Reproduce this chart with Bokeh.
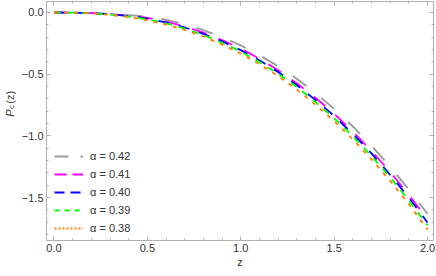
import numpy as np
from bokeh.plotting import figure
from bokeh.layouts import row
from bokeh.models import (SingleIntervalTicker, LinearAxis, Legend, LegendItem,
                          CustomJSTickFormatter)
from bokeh.core.properties import value
from bokeh.embed import file_html
from bokeh.resources import INLINE

# ---- data ----
z = [0.0, 0.1, 0.2, 0.3, 0.4, 0.5, 0.6, 0.7, 0.8, 0.9, 1.0,
     1.1, 1.2, 1.3, 1.4, 1.5, 1.6, 1.7, 1.8, 1.9, 2.0]
p_042 = [0.0, -0.001, -0.004, -0.011, -0.022, -0.033, -0.059, -0.095, -0.143, -0.200, -0.267,
         -0.346, -0.436, -0.537, -0.652, -0.781, -0.924, -1.080, -1.250, -1.434, -1.633]
p_041 = [0.0, -0.001, -0.005, -0.013, -0.026, -0.043, -0.074, -0.113, -0.163, -0.223, -0.293,
         -0.375, -0.468, -0.573, -0.691, -0.821, -0.965, -1.122, -1.293, -1.478, -1.678]
p_040 = [0.0, -0.001, -0.006, -0.015, -0.029, -0.049, -0.081, -0.121, -0.173, -0.234, -0.305,
         -0.388, -0.482, -0.589, -0.708, -0.839, -0.984, -1.142, -1.315, -1.501, -1.702]
p_039 = [0.0, -0.001, -0.006, -0.017, -0.033, -0.055, -0.088, -0.130, -0.182, -0.245, -0.317,
         -0.401, -0.497, -0.604, -0.725, -0.857, -1.003, -1.163, -1.336, -1.524, -1.726]
p_038 = [0.0, -0.001, -0.007, -0.019, -0.037, -0.063, -0.098, -0.141, -0.195, -0.259, -0.333,
         -0.419, -0.516, -0.625, -0.747, -0.881, -1.029, -1.190, -1.365, -1.554, -1.758]
series = [p_042, p_041, p_040, p_039, p_038]
labels = ["α = 0.42", "α = 0.41", "α = 0.40", "α = 0.39", "α = 0.38"]

x_ticks = [0.0, 0.5, 1.0, 1.5, 2.0]
x_tick_labels = ["0.0", "0.5", "1.0", "1.5", "2.0"]
y_ticks = [0.0, -0.5, -1.0, -1.5]
y_tick_labels = ["0.0", "\u22120.5", "\u22121.0", "\u22121.5"]
x_title = "z"
y_title_parts = ["P", "c", "(z)"]

# ---- styles ----
colors = ["#999999", "#ff00ff", "#0000ff", "#00ff00", "#ff8000"]
curve_dash = ["17 19", "15 13", "11 10", "7 7", "4 6"]
legend_dash = ["14 12", "12 6", "10 6", "5 5", "2 2"]
FONT = "Liberation Sans"
TXT = "#333333"
AX = "#b0b0b0"

# ---- narrow panel holding the rotated y-axis title ----
LW = 16
lab = figure(width=LW, height=276, x_range=(0, LW), y_range=(0, 276),
             output_backend="svg", toolbar_location=None,
             min_border_left=0, min_border_right=0, min_border_top=0, min_border_bottom=0,
             x_axis_location=None, y_axis_location=None)
lab.grid.visible = False
lab.outline_line_color = None
# pixel positions of the title pieces inside the panel (y measured upward)
piece_x = [9, 11, 9]
piece_y = [143, 152, 158]
piece_style = ["italic", "normal", "normal"]
piece_size = ["11px", "8px", "11px"]
for t, px, py, st, sz in zip(y_title_parts, piece_x, piece_y, piece_style, piece_size):
    lab.text(x=[px], y=[py], text=[t], angle=np.pi / 2, text_font=value(FONT),
             text_font_style=st, text_font_size=sz, text_color=TXT,
             text_align="left", text_baseline="alphabetic")

# ---- main plot ----
p = figure(width=436 - LW, height=276, x_range=(-0.04, 2.032), y_range=(-1.848, 0.089),
           output_backend="svg", toolbar_location=None,
           min_border_left=46 - LW, min_border_right=3, min_border_top=1, min_border_bottom=36,
           x_axis_location=None, y_axis_location=None)
p.grid.visible = False
p.outline_line_color = None
p.background_fill_color = "white"

xt = SingleIntervalTicker(interval=0.5, num_minor_ticks=5)
yt = SingleIntervalTicker(interval=0.5, num_minor_ticks=5)
blank = CustomJSTickFormatter(code="return '';")


def style_axis(ax, show_labels):
    ax.axis_line_color = AX
    ax.major_tick_line_color = AX
    ax.minor_tick_line_color = AX
    ax.major_tick_in = 4
    ax.major_tick_out = 0
    ax.minor_tick_in = 2
    ax.minor_tick_out = 0
    ax.major_label_text_font = FONT
    ax.major_label_text_color = TXT
    ax.major_label_text_font_size = "11px"
    ax.major_label_standoff = 3 if show_labels else 0
    ax.axis_label_text_font = FONT
    ax.axis_label_text_color = TXT
    ax.axis_label_text_font_size = "11px"
    ax.axis_label_text_font_style = "normal"


bottom = LinearAxis(ticker=xt, axis_label=x_title,
                    major_label_overrides={k: v for k, v in zip(x_ticks, x_tick_labels)})
style_axis(bottom, True)
bottom.axis_label_standoff = 1
left = LinearAxis(ticker=yt,
                  major_label_overrides={k: v for k, v in zip(y_ticks, y_tick_labels)})
style_axis(left, True)
top = LinearAxis(ticker=xt, formatter=blank)
style_axis(top, False)
right = LinearAxis(ticker=yt, formatter=blank)
style_axis(right, False)
p.add_layout(bottom, "below")
p.add_layout(left, "left")
p.add_layout(top, "above")
p.add_layout(right, "right")

items = []
for s, c, cd, ld, lb in zip(series, colors, curve_dash, legend_dash, labels):
    p.line(z, s, line_color=c, line_width=1.8, line_dash=cd)
    dummy = p.line([float("nan")], [float("nan")], line_color=c, line_width=1.8, line_dash=ld)
    items.append(LegendItem(label=lb, renderers=[dummy]))

legend = Legend(items=items, location=(8, 5), padding=0, margin=0, spacing=4,
                glyph_width=29, glyph_height=14, label_height=14, label_standoff=7,
                label_text_font=FONT, label_text_font_size="11px", label_text_color=TXT,
                border_line_alpha=0, background_fill_alpha=0)
p.add_layout(legend, "center")

layout = row(lab, p, spacing=0)
open("out.html", "w").write(file_html(layout, INLINE))
